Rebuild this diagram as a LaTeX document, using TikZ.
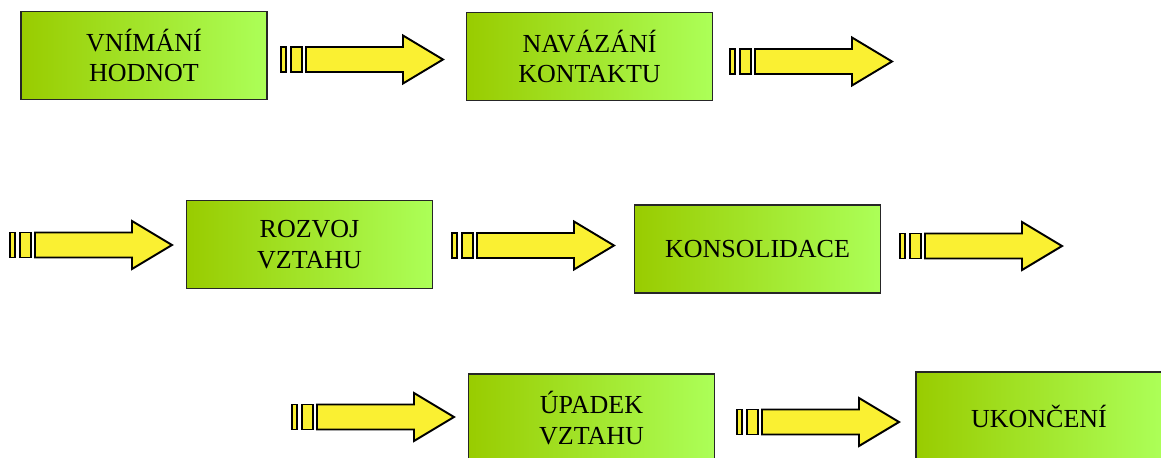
\documentclass[tikz,border=0pt]{standalone}
\usepackage{fontspec}
\setmainfont{Liberation Serif}
\usepackage{tikz}
\usetikzlibrary{positioning}
\definecolor{stagedark}{RGB}{153,204,0}
\definecolor{stagelight}{RGB}{172,255,88}
\definecolor{flowyellow}{RGB}{250,240,50}

\tikzset{
    flowline/.style={draw=black, fill=flowyellow, line width=1.1pt, line join=miter},
    % striped block arrow, origin at its left end, middle height
    flow/.pic={
        \draw[flowline] (0,-0.25) rectangle (0.106,0.25);
        \draw[flowline] (0.2,-0.25) rectangle (0.42,0.25);
        \draw[flowline] (0.5,-0.25) -- (2.44,-0.25) -- (2.44,-0.48) -- (3.24,0)
            -- (2.44,0.48) -- (2.44,0.25) -- (0.5,0.25) -- cycle;
    }
}

\begin{document}
\begin{tikzpicture}[
    stage/.style={draw=black!85, line width=1pt, left color=stagedark, right color=stagelight,
        minimum width=4.92cm, minimum height=1.76cm, align=center,
        font=\fontsize{14.8pt}{17.4pt}\selectfont}
]
    \useasboundingbox (0,0) rectangle (23.22,-9.14);

    % First row
    \node[stage] (perception) at (2.88,-1.11) {VNÍMÁNÍ\\HODNOT};
    \pic at (5.62,-1.19) {flow};
    \node[stage] (contact) at (11.79,-1.13) {NAVÁZÁNÍ\\KONTAKTU};
    \pic at (14.60,-1.23) {flow};

    % Second row
    \pic at (0.20,-4.90) {flow};
    \node[stage] (growth) at (6.19,-4.89) {ROZVOJ\\VZTAHU};
    \pic at (9.04,-4.91) {flow};
    \node[stage] (consolidation) at (15.15,-4.98) {KONSOLIDACE};
    \pic at (18.00,-4.92) {flow};

    % Third row
    \pic at (5.84,-8.34) {flow};
    \node[stage] (decline) at (11.83,-8.36) {ÚPADEK\\VZTAHU};
    \pic at (14.74,-8.44) {flow};
    \node[stage] (ending) at (20.78,-8.32) {UKONČENÍ};

\end{tikzpicture}
\end{document}
